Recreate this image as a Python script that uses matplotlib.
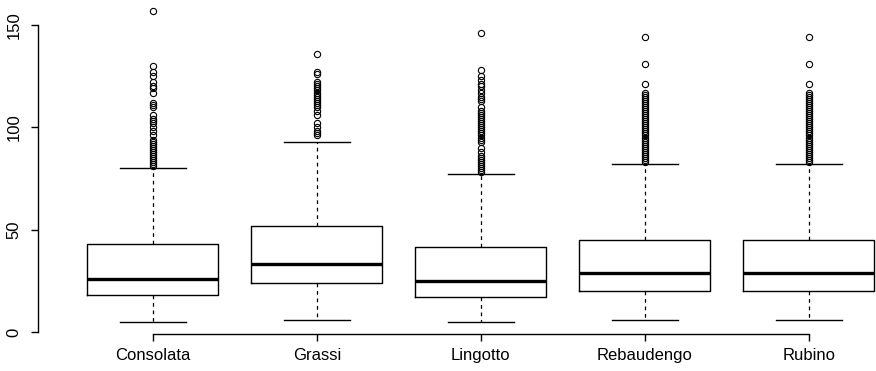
import numpy as np
import matplotlib
matplotlib.use('Agg')
import matplotlib.pyplot as plt

plt.rcParams['font.family'] = ['Liberation Sans', 'DejaVu Sans']

# stazioni e statistiche
stazioni = ['Consolata', 'Grassi', 'Lingotto', 'Rebaudengo', 'Rubino']
mediana = [26, 33, 25, 29, 29]
q1 = [18, 24, 17, 20, 20]
q3 = [43, 52, 41.5, 45, 45]
baffo_min = [5, 6, 5, 6, 6]
baffo_max = [80, 93, 77, 82, 82]

out_consolata = [157, 130, 127, 125, 122, 120, 119, 117, 112, 111, 110, 106, 104, 103,
                 102, 100, 98, 96, 94, 93, 92, 91, 90, 89, 88, 87, 86, 85, 84, 83, 82, 81]
out_grassi = [136, 127, 126, 122, 121, 120, 119, 118, 117, 116, 115, 114, 113, 112,
              111, 110, 108, 106, 102, 100, 98, 97, 96]
out_lingotto = [146, 128, 125, 123, 121, 120, 118, 117, 115, 114, 113, 110, 108, 107,
                106, 105, 104, 103, 102, 101, 100, 99, 98, 97, 96, 95, 94, 93, 90, 88,
                86, 85, 84, 83, 82, 81, 80, 79, 78]
out_rebaudengo = [144, 131, 121, 117, 116, 115, 114, 113, 112, 111, 110, 109, 108, 107,
                  106, 105, 104, 103, 102, 101, 100, 99, 98, 97, 96, 95, 94, 93, 92, 91,
                  90, 89, 88, 87, 86, 85, 84, 83]
out_rubino = [144, 131, 121, 117, 116, 115, 114, 113, 112, 111, 110, 109, 108, 107,
              106, 105, 104, 103, 102, 101, 100, 99, 98, 97, 96, 95, 94, 93, 92, 91,
              90, 89, 88, 87, 86, 85, 84, 83]
outliers = [out_consolata, out_grassi, out_lingotto, out_rebaudengo, out_rubino]

stats = []
for i in range(len(stazioni)):
    stats.append({'label': stazioni[i], 'med': mediana[i], 'q1': q1[i], 'q3': q3[i],
                  'whislo': baffo_min[i], 'whishi': baffo_max[i],
                  'fliers': np.array(outliers[i])})

fig = plt.figure(figsize=(8.76, 3.71), dpi=100)
ax = fig.add_axes([38/876, 37/371, 838/876, 334/371])

ax.bxp(stats, positions=range(1, 6), widths=0.8, capwidths=0.4,
       boxprops=dict(color='black', linewidth=1.0),
       medianprops=dict(color='black', linewidth=2.4, solid_capstyle='butt'),
       whiskerprops=dict(color='black', linewidth=0.9, linestyle=(0, (3, 3))),
       capprops=dict(color='black', linewidth=1.0),
       flierprops=dict(marker='o', markerfacecolor='none', markeredgecolor='black',
                       markersize=4.5, markeredgewidth=0.8, linestyle='none'))

ax.set_xlim(0.3, 0.3 + 838/164)
ax.set_ylim(-1, 162.2)

for s in ['top', 'right']:
    ax.spines[s].set_visible(False)
ax.spines['left'].set_bounds(0, 150)
ax.spines['bottom'].set_bounds(1, 5)
ax.spines['left'].set_linewidth(1.0)
ax.spines['bottom'].set_linewidth(1.0)

ax.set_yticks([0, 50, 100, 150])
ax.set_yticklabels(['0', '50', '100', '150'], rotation=90, va='center')
ax.set_xticks(range(1, 6))
ax.set_xticklabels(stazioni)
ax.tick_params(axis='both', length=5, width=1.0, labelsize=12)
ax.tick_params(axis='y', pad=7)
ax.tick_params(axis='x', pad=5)

fig.savefig('out.png', dpi=100)
